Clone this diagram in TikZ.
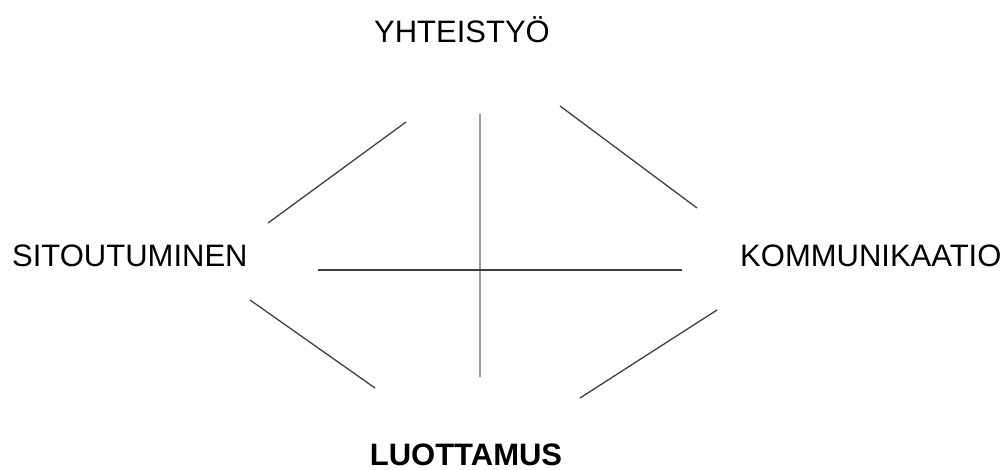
\documentclass[tikz,border=0pt]{standalone}
\usepackage{fontspec}
\setmainfont{Liberation Sans}
\usetikzlibrary{positioning}
\tikzset{
  termtext/.style={font=\fontsize{31}{36}\selectfont, inner sep=0pt},
  link/.style={black!75, line width=1.3pt},
  axisline/.style={black!40, line width=2pt},
}

\begin{document}
\begin{tikzpicture}[x=1pt, y=-1pt]
                \useasboundingbox (0,0) rectangle (1006,470);
                % the four terms
                \node[termtext, anchor=base] (yht) at (462,43) {YHTEISTYÖ};
                \node[termtext, anchor=base west] (sit) at (12,266) {SITOUTUMINEN};
                \node[termtext, anchor=base west] (kom) at (740,266) {KOMMUNIKAATIO};
                \node[termtext, anchor=base, font=\fontsize{31}{36}\selectfont\bfseries] (luo) at (466,465) {LUOTTAMUS};
                % line ends
                \coordinate (sy1) at (268,223);
                \coordinate (sy2) at (406,122);
                \coordinate (yk1) at (560,106);
                \coordinate (yk2) at (697,208);
                \coordinate (sl1) at (250,300);
                \coordinate (sl2) at (375,388);
                \coordinate (lk1) at (580,398);
                \coordinate (lk2) at (717,310);
                \coordinate (top) at (480,114);
                \coordinate (bot) at (480,377);
                \coordinate (lft) at (318,270);
                \coordinate (rgt) at (682,270);
                \draw[link] (sy1) -- (sy2);
                \draw[link] (yk1) -- (yk2);
                \draw[link] (sl1) -- (sl2);
                \draw[link] (lk1) -- (lk2);
                \draw[axisline] (top) -- (bot);
                \draw[link] (lft) -- (rgt);
            \end{tikzpicture}
\end{document}
